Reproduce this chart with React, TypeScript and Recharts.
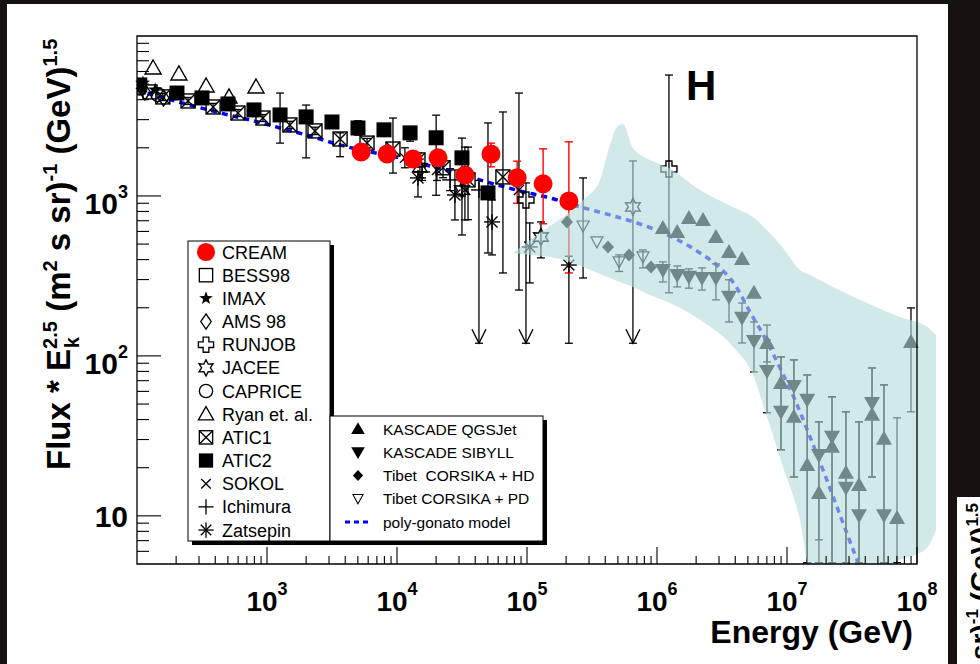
import React from 'react';
import { ComposedChart, XAxis, YAxis, Scatter, ErrorBar, Line, Area, ReferenceArea } from 'recharts';

const FONT = '"Liberation Sans", Arial, Helvetica, sans-serif';

// ---- measured points: energy (GeV) and flux * E^2.5 ----
const CREAM_E = [5.3e3, 8.4e3, 1.33e4, 2.07e4, 3.34e4, 5.28e4, 8.4e4, 1.33e5, 2.1e5];
const CREAM_F = [1880, 1830, 1700, 1730, 1350, 1830, 1300, 1190, 930];
const CREAM_LO = [1760, 1710, 1590, 1620, 1260, 1520, 900, 670, 330];
const CREAM_HI = [2010, 1960, 1820, 1850, 1450, 2140, 1650, 1970, 2180];

const BESS98_E = [102, 126];
const BESS98_F = [4800, 4470];
const IMAX_E = [111, 138];
const IMAX_F = [5080, 4600];
const AMS_E = [115, 160];
const AMS_F = [4470, 4100];
const CAPRICE_E = [105, 145];
const CAPRICE_F = [4730, 4300];
const RYAN_E = [133, 210, 340, 510, 823];
const RYAN_F = [6310, 5790, 4870, 4160, 4800];

const ATIC1_E = [158, 247, 385, 598, 931, 1500, 2340, 3650, 5880, 9310, 14500, 22600, 35200, 65300];
const ATIC1_F = [4160, 3925, 3600, 3300, 3070, 2780, 2550, 2270, 2140, 1965, 1680, 1500, 1260, 1315];
const ATIC1_LO = [3950, 3730, 3420, 3140, 2920, 2640, 2420, 1760, 2000, 1390, 1520, 1300, 710, 330];
const ATIC1_HI = [4380, 4130, 3790, 3470, 3230, 2930, 2690, 2480, 2290, 3070, 1860, 1730, 2020, 3350];

const ATIC2_E = [105, 203, 316, 501, 794, 1260, 2000, 3160, 5010, 7940, 12600, 20000, 31600, 50100];
const ATIC2_F = [4940, 4400, 4100, 3760, 3450, 3210, 3120, 2900, 2660, 2590, 2480, 2310, 1730, 1045];
const ATIC2_LO = [4700, 4200, 3900, 3580, 3280, 2140, 1730, 2750, 2400, 2400, 2200, 1010, 570, 440];
const ATIC2_HI = [5200, 4620, 4300, 3950, 3620, 4400, 3700, 3050, 2950, 2750, 2650, 3200, 2300, 2860];

const SOKOL_E = [11500, 20300, 33300, 86700];
const SOKOL_F = [1730, 1454, 1090, 1090];
const SOKOL_LO = [1500, 1250, 708, 258];
const SOKOL_HI = [2000, 1700, 2020, 4400];

const ICHI_E = [15600, 25600, 42700];
const ICHI_F = [1413, 1260, 1090];
const ICHI_LO = [1250, 1080, 120];
const ICHI_HI = [1600, 1480, 1250];

const ZATS_E = [14500, 27900, 53800, 105000, 210000];
const ZATS_F = [1296, 1014, 688, 480, 370];
const ZATS_LO = [986, 708, 428, 286, 120];
const ZATS_HI = [1413, 1454, 944, 678, 420];

const JACEE_E = [15000, 31600, 128000, 653000];
const JACEE_F = [1500, 1090, 554, 854];
const JACEE_LO = [1300, 1000, 410, 120];
const JACEE_HI = [1700, 1250, 688, 1655];

const RUNJOB_E = [98200, 1.236e6];
const RUNJOB_F = [944, 1475];
const RUNJOB_LO = [120, 248];
const RUNJOB_HI = [1206, 5700];

// upper-limit arrow tips
const ARROW_E = [42700, 98200, 653000];
const ARROW_F = [120, 120, 120];

const TIBHD_E = [2.03e5, 4.2e5, 6.09e5, 8.99e5];
const TIBHD_F = [688, 480, 428, 360];
const TIBPD_E = [2.7e5, 3.45e5, 5.11e5, 7.8e5];
const TIBPD_F = [649, 516, 387, 416];
const TIBPD_LO = [307, null, 337, 355];
const TIBPD_HI = [1296, null, 428, 460];

const QGS_E = [1.11e6, 1.43e6, 1.76e6, 2.26e6, 2.84e6, 3.58e6, 4.51e6, 5.57e6, 7.02e6, 8.99e6, 1.13e7, 1.43e7, 1.76e7, 2.22e7, 2.84e7, 3.58e7, 4.51e7, 5.57e7, 7.02e7, 8.99e7];
const QGS_F = [631, 596, 729, 708, 554, 447, 404, 248, 120.5, 67.8, 41.6, 20.8, 13.9, 27.0, 18.6, 15.6, 42.8, 30.3, 9.7, 122];
const QGS_LO = [null, null, null, null, null, null, null, null, 91.7, 25.9, 17.5, 5.1, 5.1, 5.1, 5.1, 5.1, 17.5, 5.1, 5.1, 44.7];
const QGS_HI = [null, null, null, null, null, null, null, null, 156, 98.6, 94.4, 76, 38.7, 55.5, 44.7, 38.7, 84.1, 65.9, 41.0, 199.5];

const SIB_E = [1.11e6, 1.43e6, 1.76e6, 2.22e6, 2.84e6, 3.58e6, 4.51e6, 5.57e6, 7.02e6, 8.99e6, 1.13e7, 1.43e7, 1.76e7, 2.22e7, 2.84e7, 3.58e7, 4.51e7, 5.57e7];
const SIB_F = [345, 321, 312, 307, 307, 234, 173, 124, 80.5, 44.7, 64.9, 53.1, 24.0, 31.2, 15.0, 10.1, 50.8, 10.1];
const SIB_LO = [290, 270, 265, 258, 224, 163, 120.5, 79.4, 44.1, 25.9, 17.5, 5.1, 7.08, 5.1, 5.1, 5.1, 17.5, 5.1];
const SIB_HI = [387, 365, 350, 355, 376, 299, 214, 163, 126, 98.6, 94.4, 76, 38.7, 55.5, 44.7, 38.7, 84.1, 65.9];

// poly-gonato model curve
const PG_E = [100, 150, 256, 435, 739, 1259, 2142, 3645, 6196, 1.054e4, 1.793e4, 3.053e4, 5.189e4, 8.831e4, 1.503e5, 2.559e5, 4.349e5, 7.394e5, 1.259e6, 2.142e6, 3.053e6, 3.981e6, 5.19e6, 6.77e6, 8.83e6, 1.152e7, 1.503e7, 1.96e7, 2.56e7, 3.34e7, 3.65e7];
const PG_F = [4597, 4159, 3706, 3303, 2985, 2661, 2371, 2083, 1884, 1728, 1540, 1372, 1206, 1075, 971, 854, 761, 668, 562, 440, 355, 278, 188, 129.6, 84.1, 53.1, 31.2, 18.0, 10.1, 5.70, 4.73];

// shaded band (air shower region)
const BAND_E = [7.8e4, 1.054e5, 1.503e5, 2.14e5, 2.698e5, 3.644e5, 4.349e5, 4.923e5, 5.474e5, 6.533e5, 8.834e5, 1.194e6, 2.142e6, 3.843e6, 5.475e6, 7.02e6, 9.31e6, 1.259e7, 1.503e7, 2.259e7, 4.12e7, 7.39e7, 1.194e8, 1.40e8];
const BAND_LO = [440, 428, 416, 387, 360, 325, 307, 294, 286, 270, 240, 218, 168, 114, 76, 41.6, 20.2, 9.44, 4.6, 4.6, 4.6, 5.3, 6.3, 8.2];
const BAND_HI = [440, 531, 649, 794, 944, 1259, 2083, 2700, 2818, 1995, 1679, 1518, 1090, 854, 739, 613, 473, 345, 321, 270, 214, 175, 152, 135];

const X_TICKS = [200, 300, 400, 500, 600, 700, 800, 900, 1e3, 2e3, 3e3, 4e3, 5e3, 6e3, 7e3, 8e3, 9e3, 1e4, 2e4, 3e4, 4e4, 5e4, 6e4, 7e4, 8e4, 9e4, 1e5, 2e5, 3e5, 4e5, 5e5, 6e5, 7e5, 8e5, 9e5, 1e6, 2e6, 3e6, 4e6, 5e6, 6e6, 7e6, 8e6, 9e6, 1e7, 2e7, 3e7, 4e7, 5e7, 6e7, 7e7, 8e7, 9e7, 1e8];
const Y_TICKS = [6, 7, 8, 9, 10, 20, 30, 40, 50, 60, 70, 80, 90, 100, 200, 300, 400, 500, 600, 700, 800, 900, 1000, 2000, 3000, 4000, 5000, 6000, 7000, 8000, 9000];

const LEGEND_A = ['CREAM', 'BESS98', 'IMAX', 'AMS 98', 'RUNJOB', 'JACEE', 'CAPRICE', 'Ryan et. al.', 'ATIC1', 'ATIC2', 'SOKOL', 'Ichimura', 'Zatsepin'];
const LEGEND_A_KIND = ['fcircle', 'osquare', 'fstar', 'odiamond', 'ocross', 'ostar', 'ocircle', 'otri', 'boxx', 'fsquare', 'xmark', 'plus', 'aster'];
const LEGEND_B = ['KASCADE QGSJet', 'KASCADE SIBYLL', 'Tibet  CORSIKA + HD', 'Tibet CORSIKA + PD', 'poly-gonato model'];
const LEGEND_B_KIND = ['ftri', 'ftrid', 'fdiamond', 'otrid', 'dash'];

// x domain stretched past 1e8 so the band can spill over the right frame
const X_MAX = 1.503e8;

const pts = (E: number[], F: number[], LO?: (number | null)[], HI?: (number | null)[]) =>
  E.map((x, i) => ({
    x,
    y: F[i],
    err: LO && HI && LO[i] != null && HI[i] != null ? [F[i] - (LO[i] as number), (HI[i] as number) - F[i]] : null,
  }));

const pgData = PG_E.map((x, i) => ({ x, y: PG_F[i] }));
const bandData = BAND_E.map((x, i) => ({ x, r: [BAND_LO[i], BAND_HI[i]] }));

function starPts(n: number, ro: number, ri: number) {
  const out: string[] = [];
  for (let i = 0; i < 2 * n; i++) {
    const r = i % 2 ? ri : ro;
    const a = -Math.PI / 2 + (i * Math.PI) / n;
    out.push(`${r * Math.cos(a)},${r * Math.sin(a)}`);
  }
  return out.join(' ');
}
const poly = (p: number[][]) => p.map(([a, b]) => `${a},${b}`).join(' ');

function Marker({ kind, cx, cy, s = 1 }: any) {
  if (cx == null || cy == null) return null;
  const k = '#000';
  const sw = 1.4;
  let body: any = null;
  switch (kind) {
    case 'fcircle':
      body = <circle r={9.5} fill="#ff0000" />;
      break;
    case 'osquare':
      body = <rect x={-7} y={-7} width={14} height={14} fill="none" stroke={k} strokeWidth={sw} />;
      break;
    case 'fstar':
      body = <polygon points={starPts(5, 7.5, 3)} fill={k} />;
      break;
    case 'odiamond':
      body = <polygon points={poly([[0, -8], [5.5, 0], [0, 8], [-5.5, 0]])} fill="none" stroke={k} strokeWidth={sw} />;
      break;
    case 'ocross':
      body = (
        <polygon
          points={poly([[-3, -8], [3, -8], [3, -3], [8, -3], [8, 3], [3, 3], [3, 8], [-3, 8], [-3, 3], [-8, 3], [-8, -3], [-3, -3]])}
          fill="none"
          stroke={k}
          strokeWidth={sw}
        />
      );
      break;
    case 'ostar':
      body = <polygon points={starPts(6, 8.5, 4.6)} fill="none" stroke={k} strokeWidth={sw} />;
      break;
    case 'ocircle':
      body = <circle r={7} fill="none" stroke={k} strokeWidth={sw} />;
      break;
    case 'otri':
      body = <polygon points={poly([[0, -8], [8, 6], [-8, 6]])} fill="none" stroke={k} strokeWidth={sw} />;
      break;
    case 'boxx':
      body = (
        <g fill="none" stroke={k} strokeWidth={sw}>
          <rect x={-7} y={-7} width={14} height={14} />
          <line x1={-7} y1={-7} x2={7} y2={7} />
          <line x1={-7} y1={7} x2={7} y2={-7} />
        </g>
      );
      break;
    case 'fsquare':
      body = <rect x={-7.5} y={-7.5} width={15} height={15} fill={k} />;
      break;
    case 'xmark':
      body = (
        <g stroke={k} strokeWidth={sw}>
          <line x1={-5} y1={-5} x2={5} y2={5} />
          <line x1={-5} y1={5} x2={5} y2={-5} />
        </g>
      );
      break;
    case 'plus':
      body = (
        <g stroke={k} strokeWidth={sw}>
          <line x1={-8} y1={0} x2={8} y2={0} />
          <line x1={0} y1={-8} x2={0} y2={8} />
        </g>
      );
      break;
    case 'aster':
      body = (
        <g stroke={k} strokeWidth={sw}>
          <line x1={-8} y1={0} x2={8} y2={0} />
          <line x1={0} y1={-8} x2={0} y2={8} />
          <line x1={-5.5} y1={-5.5} x2={5.5} y2={5.5} />
          <line x1={-5.5} y1={5.5} x2={5.5} y2={-5.5} />
        </g>
      );
      break;
    case 'ftri':
      body = <polygon points={poly([[0, -8], [8, 6], [-8, 6]])} fill={k} />;
      break;
    case 'ftrid':
      body = <polygon points={poly([[0, 8], [8, -6], [-8, -6]])} fill={k} />;
      break;
    case 'fdiamond':
      body = <polygon points={poly([[0, -6.5], [6, 0], [0, 6.5], [-6, 0]])} fill={k} />;
      break;
    case 'otrid':
      body = <polygon points={poly([[0, 6], [6, -5], [-6, -5]])} fill="none" stroke={k} strokeWidth={1.2} />;
      break;
    case 'arrow':
      body = (
        <g stroke={k} strokeWidth={1.4} fill="none">
          <polyline points="-7,-14 0,0 7,-14" />
        </g>
      );
      break;
    case 'dash':
      body = <line x1={-13} y1={0} x2={13} y2={0} stroke="#0000ff" strokeWidth={3} strokeDasharray="5 4" />;
      break;
  }
  return <g transform={`translate(${cx},${cy}) scale(${s})`}>{body}</g>;
}

const shapeOf = (kind: string) => (p: any) => <Marker kind={kind} cx={p.cx} cy={p.cy} />;

const SERIES = [
  { id: 'bess', kind: 'osquare', data: pts(BESS98_E, BESS98_F) },
  { id: 'imax', kind: 'fstar', data: pts(IMAX_E, IMAX_F) },
  { id: 'ams', kind: 'odiamond', data: pts(AMS_E, AMS_F) },
  { id: 'caprice', kind: 'ocircle', data: pts(CAPRICE_E, CAPRICE_F) },
  { id: 'ryan', kind: 'otri', data: pts(RYAN_E, RYAN_F) },
  { id: 'atic1', kind: 'boxx', data: pts(ATIC1_E, ATIC1_F, ATIC1_LO, ATIC1_HI), err: true },
  { id: 'atic2', kind: 'fsquare', data: pts(ATIC2_E, ATIC2_F, ATIC2_LO, ATIC2_HI), err: true },
  { id: 'sokol', kind: 'xmark', data: pts(SOKOL_E, SOKOL_F, SOKOL_LO, SOKOL_HI), err: true },
  { id: 'ichi', kind: 'plus', data: pts(ICHI_E, ICHI_F, ICHI_LO, ICHI_HI), err: true },
  { id: 'zats', kind: 'aster', data: pts(ZATS_E, ZATS_F, ZATS_LO, ZATS_HI), err: true },
  { id: 'jacee', kind: 'ostar', data: pts(JACEE_E, JACEE_F, JACEE_LO, JACEE_HI), err: true },
  { id: 'runjob', kind: 'ocross', data: pts(RUNJOB_E, RUNJOB_F, RUNJOB_LO, RUNJOB_HI), err: true },
  { id: 'arrow', kind: 'arrow', data: pts(ARROW_E, ARROW_F) },
  { id: 'tibhd', kind: 'fdiamond', data: pts(TIBHD_E, TIBHD_F) },
  { id: 'tibpd', kind: 'otrid', data: pts(TIBPD_E, TIBPD_F, TIBPD_LO, TIBPD_HI), err: true },
  { id: 'qgs', kind: 'ftri', data: pts(QGS_E, QGS_F, QGS_LO, QGS_HI), err: true },
  { id: 'sib', kind: 'ftrid', data: pts(SIB_E, SIB_F, SIB_LO, SIB_HI), err: true },
];

const isDecade = (v: number) => {
  const k = Math.round(Math.log10(v));
  return { k, major: Math.abs(v - Math.pow(10, k)) < v * 1e-6 };
};

function XTick({ x, y, payload }: any) {
  const { k, major } = isDecade(payload.value);
  return (
    <g>
      <line x1={x} x2={x} y1={y} y2={y - (major ? 17 : 8)} stroke="#000" strokeWidth={1.1} />
      {major && (
        <text x={x} y={y + 47} textAnchor="middle" fontFamily={FONT} fontWeight="bold" fontSize={28} fill="#000">
          10<tspan dy={-16} fontSize={18}>{k}</tspan>
        </text>
      )}
    </g>
  );
}

function YTick({ x, y, payload }: any) {
  const { k, major } = isDecade(payload.value);
  return (
    <g>
      <line x1={x} x2={x + (major ? 24 : 12)} y1={y} y2={y} stroke="#000" strokeWidth={1.1} />
      {major && k === 1 && (
        <text x={x - 9} y={y + 11} textAnchor="end" fontFamily={FONT} fontWeight="bold" fontSize={30} fill="#000">
          10
        </text>
      )}
      {major && k > 1 && (
        <text x={x - 9} y={y + 18} textAnchor="end" fontFamily={FONT} fontWeight="bold" fontSize={30} fill="#000">
          10<tspan dy={-16} fontSize={18}>{k}</tspan>
        </text>
      )}
    </g>
  );
}

function Legends() {
  return (
    <g fontFamily={FONT} fill="#000">
      <rect x={192} y={245} width={142} height={300} fill="#000" />
      <rect x={188} y={241} width={142} height={300} fill="#fff" stroke="#000" strokeWidth={1} />
      {LEGEND_A.map((t, i) => (
        <g key={t}>
          <Marker kind={LEGEND_A_KIND[i]} cx={206} cy={252 + i * 23.17} s={0.95} />
          <text x={222} y={252 + i * 23.17 + 6.5} fontSize={18}>
            {t}
          </text>
        </g>
      ))}
      <rect x={334} y={420} width={213} height={125} fill="#000" />
      <rect x={330} y={416} width={213} height={125} fill="#fff" />
      {LEGEND_B.map((t, i) => (
        <g key={t}>
          <Marker kind={LEGEND_B_KIND[i]} cx={358} cy={429 + i * 23.25} s={LEGEND_B_KIND[i] === 'dash' ? 1 : 0.85} />
          <text x={383} y={429 + i * 23.25 + 5.5} fontSize={15.5} style={{ whiteSpace: 'pre' }}>
            {t}
          </text>
        </g>
      ))}
      <rect x={330} y={416} width={213} height={125} fill="none" stroke="#000" strokeWidth={1} />
    </g>
  );
}

export default function App() {
  return (
    <div style={{ position: 'absolute', left: 0, top: 0, width: 980, height: 664, background: '#171211', overflow: 'hidden' }}>
      <div style={{ position: 'absolute', left: 7, top: 4, width: 941, height: 660, background: '#fff' }} />
      <div style={{ position: 'absolute', left: 957, top: 497, width: 23, height: 167, background: '#fff' }} />
      <div style={{ position: 'absolute', left: 0, top: 0 }}>
        <ComposedChart width={980} height={664} margin={{ top: 36, right: 40, bottom: 0, left: 0 }}>
          <XAxis
            type="number"
            dataKey="x"
            scale="log"
            domain={[100, X_MAX]}
            allowDataOverflow
            ticks={X_TICKS}
            interval={0}
            tick={(p: any) => <XTick {...p} />}
            tickLine={false}
            axisLine={false}
            tickSize={0}
            tickMargin={0}
            height={100}
          />
          <YAxis
            type="number"
            dataKey="y"
            scale="log"
            domain={[5, 1e4]}
            allowDataOverflow
            ticks={Y_TICKS}
            interval={0}
            tick={(p: any) => <YTick {...p} />}
            tickLine={false}
            axisLine={false}
            tickSize={0}
            tickMargin={0}
            width={137}
          />
          <Line
            data={pgData}
            dataKey="y"
            type="monotone"
            stroke="#0000ff"
            strokeWidth={3.5}
            strokeDasharray="6 5"
            dot={false}
            activeDot={false}
            isAnimationActive={false}
          />
          {SERIES.map((s) => (
            <Scatter key={s.id} data={s.data} shape={shapeOf(s.kind)} isAnimationActive={false}>
              {s.err && <ErrorBar dataKey="err" direction="y" width={4} stroke="#000" strokeWidth={1.3} />}
            </Scatter>
          ))}
          <Area
            data={bandData}
            dataKey="r"
            type="monotone"
            stroke="none"
            fill="rgb(181,219,220)"
            fillOpacity={0.62}
            dot={false}
            activeDot={false}
            isAnimationActive={false}
            zIndex={650}
          />
          <Scatter
            data={pts(CREAM_E, CREAM_F, CREAM_LO, CREAM_HI)}
            shape={shapeOf('fcircle')}
            isAnimationActive={false}
            zIndex={700}
          >
            <ErrorBar dataKey="err" direction="y" width={4} stroke="#ff0000" strokeWidth={1.4} />
          </Scatter>
          <ReferenceArea x1={100} x2={1e8} y1={5} y2={1e4} fill="none" stroke="#000" strokeWidth={1.3} zIndex={900} />
        </ComposedChart>
      </div>
      <svg width={980} height={664} style={{ position: 'absolute', left: 0, top: 0, pointerEvents: 'none' }}>
        <Legends />
        <text
          transform="translate(70,470) rotate(-90)"
          fontFamily={FONT}
          fontWeight="bold"
          fontSize={33}
          fill="#000"
          style={{ whiteSpace: 'pre' }}
        >
          {'Flux * E'}
          <tspan dy={-13} fontSize={20}>2.5</tspan>
          <tspan dx={-27} dy={22} fontSize={20}>k</tspan>
          <tspan dx={16} dy={-9}>{' (m'}</tspan>
          <tspan dy={-13} fontSize={20}>2</tspan>
          <tspan dy={13}>{' s sr)'}</tspan>
          <tspan dy={-13} fontSize={20}>-1</tspan>
          <tspan dy={13}>{' (GeV)'}</tspan>
          <tspan dy={-13} fontSize={20}>1.5</tspan>
        </text>
        <text x={913} y={643} textAnchor="end" fontFamily={FONT} fontWeight="bold" fontSize={32} fill="#000">
          Energy (GeV)
        </text>
        <text x={686} y={100} fontFamily={FONT} fontWeight="bold" fontSize={42} fill="#000">
          H
        </text>
        <text
          transform="translate(990,660) rotate(-90)"
          fontFamily={FONT}
          fontWeight="bold"
          fontSize={28}
          fill="#000"
          style={{ whiteSpace: 'pre' }}
        >
          {'sr)'}
          <tspan dy={-12} fontSize={17}>-1</tspan>
          <tspan dy={12}>{' (GeV)'}</tspan>
          <tspan dy={-12} fontSize={17}>1.5</tspan>
        </text>
      </svg>
    </div>
  );
}
